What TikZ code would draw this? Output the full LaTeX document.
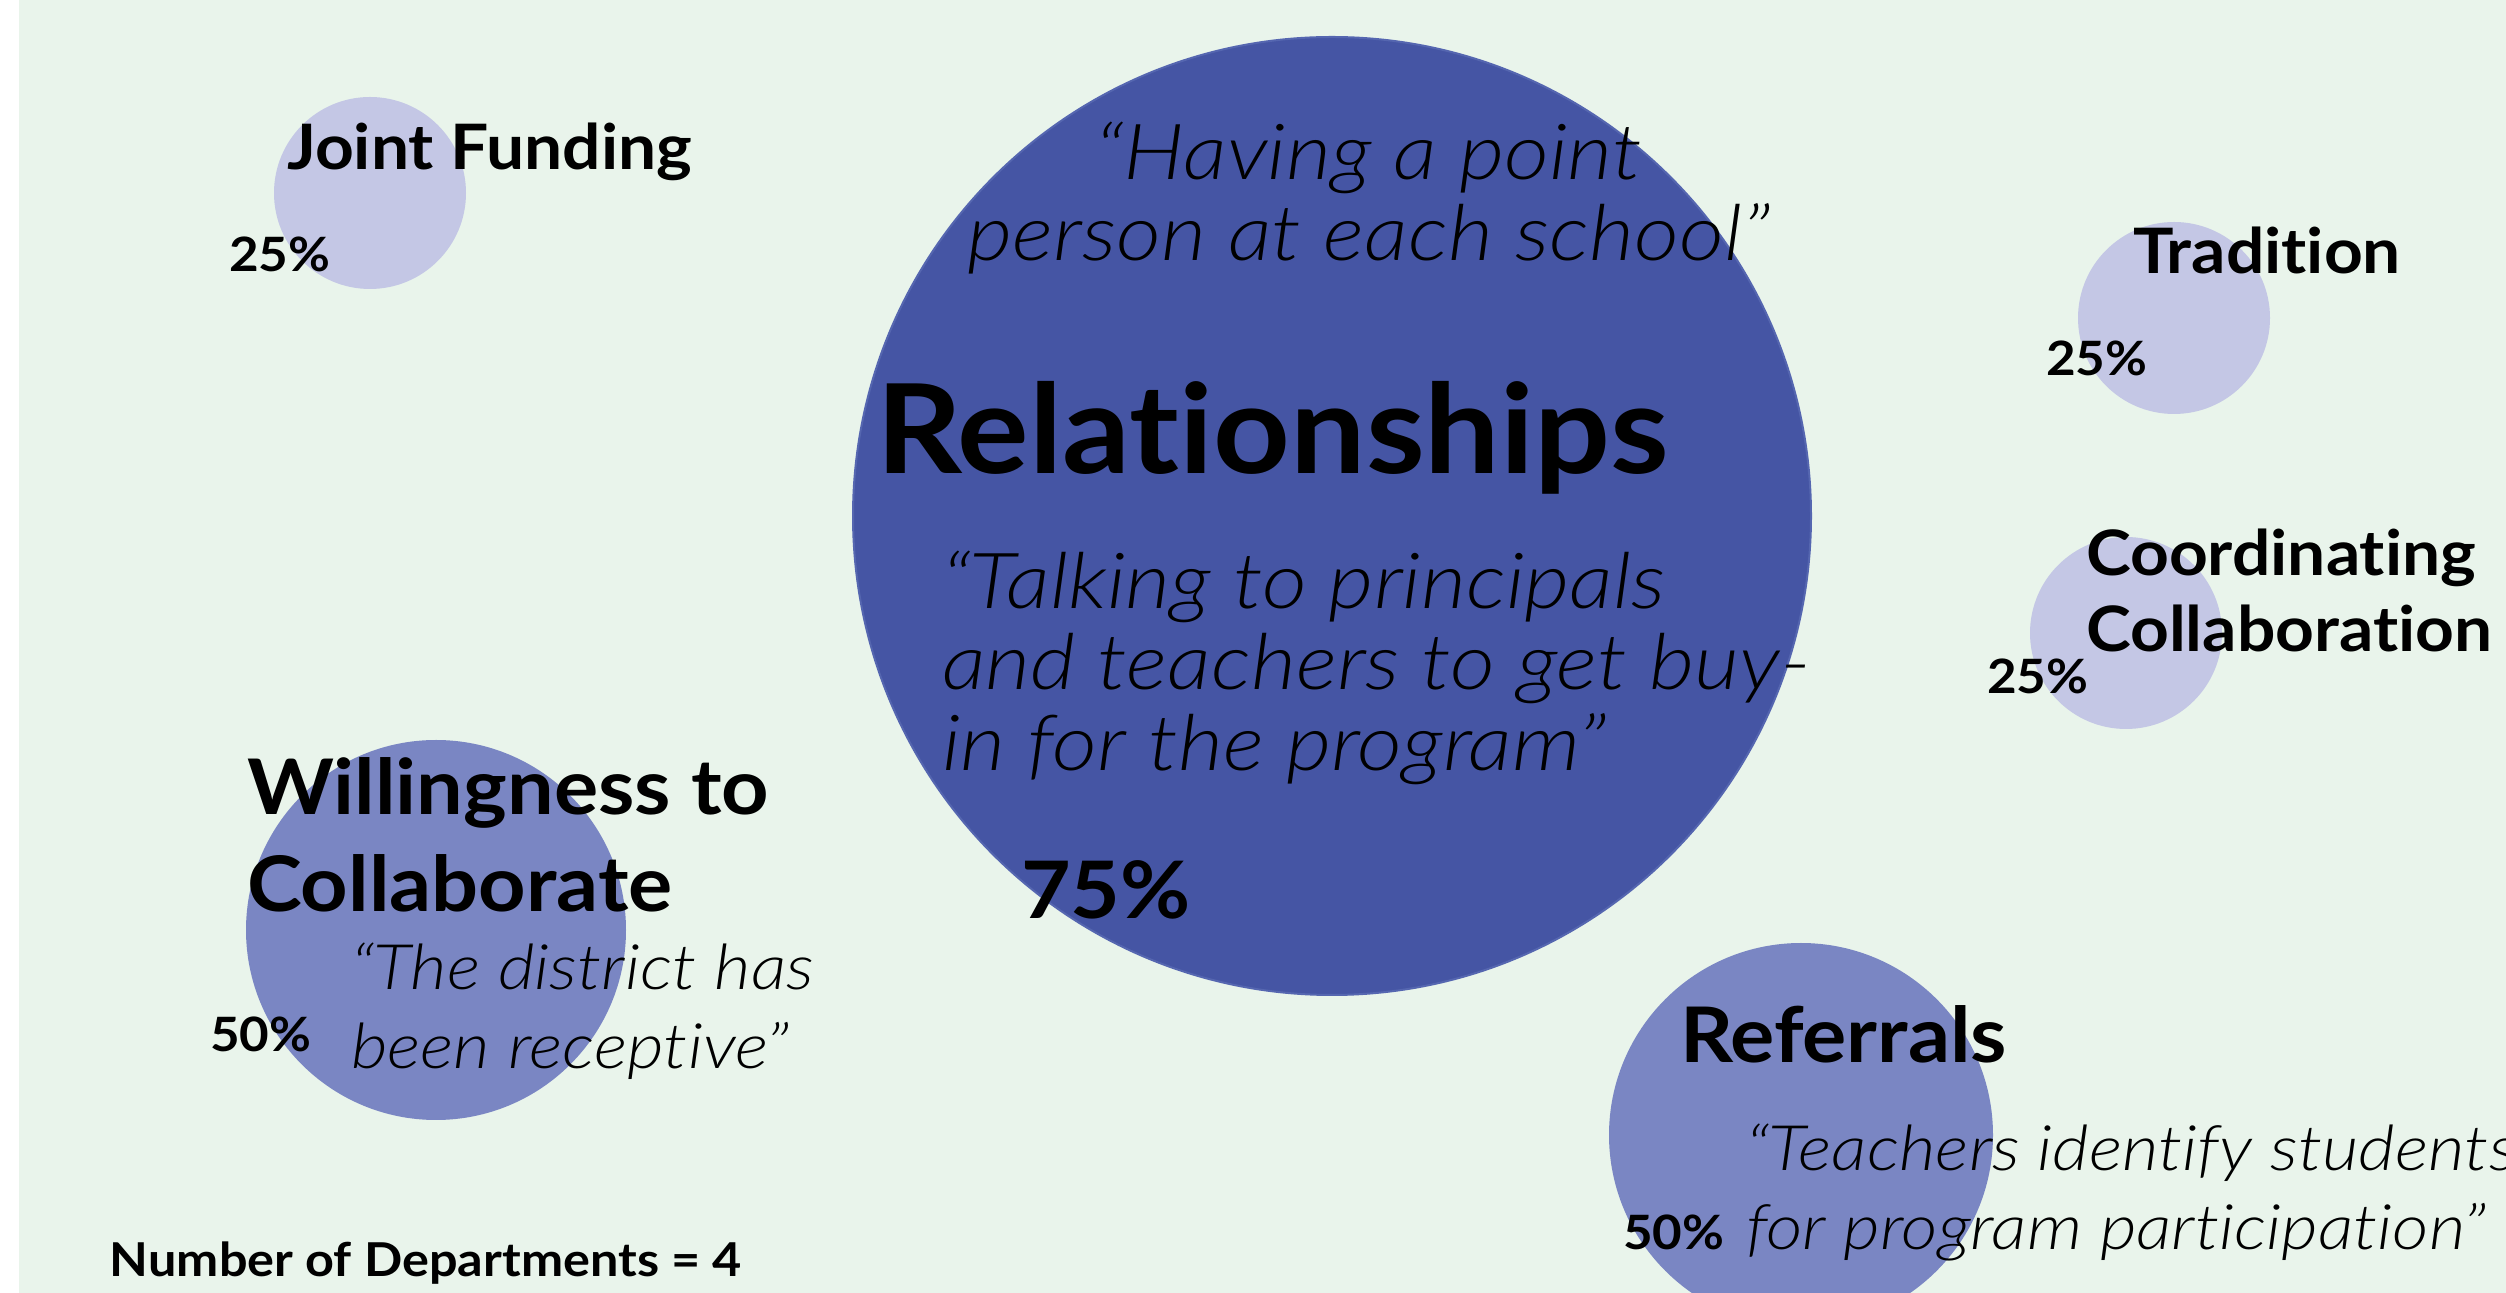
\documentclass[tikz,border=0pt]{standalone}
\usepackage{fontspec}
\setmainfont{Lato}[Ligatures=NoCommon,ItalicFont={Lato Light Italic},BoldFeatures={FakeStretch=1.08},ItalicFeatures={FakeStretch=1.13}]
\usetikzlibrary{positioning}
\definecolor{bggreen}{HTML}{E9F4EB}
\definecolor{lightbub}{HTML}{C4C7E5}
\definecolor{midbub}{HTML}{7A86C3}
\definecolor{darkbub}{HTML}{4555A4}
\definecolor{darkrim}{HTML}{5566B0}
\begin{document}
\begin{tikzpicture}[x=0.3pt,y=-0.3pt]
    \tikzstyle{every node}=[inner sep=0,outer sep=0,text=black]
    \tikzstyle{bubble}=[circle,draw=none]
    \tikzstyle{big}=[anchor=base west,font=\bfseries\fontsize{37.2}{40}\selectfont]
    \tikzstyle{head}=[anchor=base west,align=left,font=\bfseries\fontsize{23}{29.1}\selectfont]
    \tikzstyle{small}=[anchor=base west,align=left,font=\bfseries\fontsize{18.8}{22.8}\selectfont]
    \tikzstyle{quote}=[anchor=base west,align=left,font=\itshape\fontsize{18.8}{23.8}\selectfont]
    \tikzstyle{bigquote}=[quote,font=\itshape\fontsize{23.2}{24.3}\selectfont]
    \tikzstyle{pct}=[anchor=base west,font=\bfseries\fontsize{14.2}{17}\selectfont]
    {
        % page and backdrop
        \useasboundingbox (0,0) rectangle (2506,1293);
        \fill[white] (0,0) rectangle (2506,1293);
        \fill[bggreen] (19,0) rectangle (2506,1293);

        % bubbles
        \node[bubble,fill=darkbub,draw=darkrim,line width=0.6pt,minimum size=287.4pt] (rel) at (1332,516) {};
        \node[bubble,fill=midbub,minimum size=114pt] (will) at (436,930) {};
        \node[bubble,fill=midbub,minimum size=115.2pt] (ref) at (1801,1135) {};
        \node[bubble,fill=lightbub,minimum size=57.6pt] (fund) at (370,193) {};
        \node[bubble,fill=lightbub,minimum size=57.6pt] (trad) at (2174,318) {};
        \node[bubble,fill=lightbub,minimum size=57.6pt] (coord) at (2126,633) {};

        % relationships (multi-line nodes sit on their last baseline)
        \node[bigquote,anchor=base,align=center] (relq1) at (1369,261) {“Having a point\\person at each school”};
        \node[big] (reltitle) at (876,474) {Relationships};
        \node[bigquote] (relq2) at (942,771) {“Talking to principals\\and teachers to get buy-\\in for the program”};
        \node[pct,font=\bfseries\fontsize{23.8}{26}\selectfont] (relpct) at (1021,919) {75\%};

        % willingness
        \node[head] (willtitle) at (247,912) {Willingness to\\Collaborate};
        \node[quote] (willq) at (351,1069) {“The district has\\been receptive”};
        \node[pct] (willpct) at (210,1052) {50\%};

        % referrals
        \node[head] (reftitle) at (1680,1063) {Referrals};
        \node[quote] (refq) at (1746,1250) {“Teachers identify students\\for program participation”};
        \node[pct] (refpct) at (1623,1250) {50\%};

        % small bubbles
        \node[small] (fundtitle) at (287,170) {Joint Funding};
        \node[pct] (fundpct) at (229,272) {25\%};
        \node[small] (tradtitle) at (2133,274) {Tradition};
        \node[pct] (tradpct) at (2046,376) {25\%};
        \node[small] (coordtitle) at (2086,652) {Coordinating\\Collaboration};
        \node[pct] (coordpct) at (1987,694) {25\%};

        \node[pct,font=\bfseries\fontsize{14}{16}\selectfont] (count) at (110,1277) {Number of Departments = 4};
    }
\end{tikzpicture}
\end{document}
